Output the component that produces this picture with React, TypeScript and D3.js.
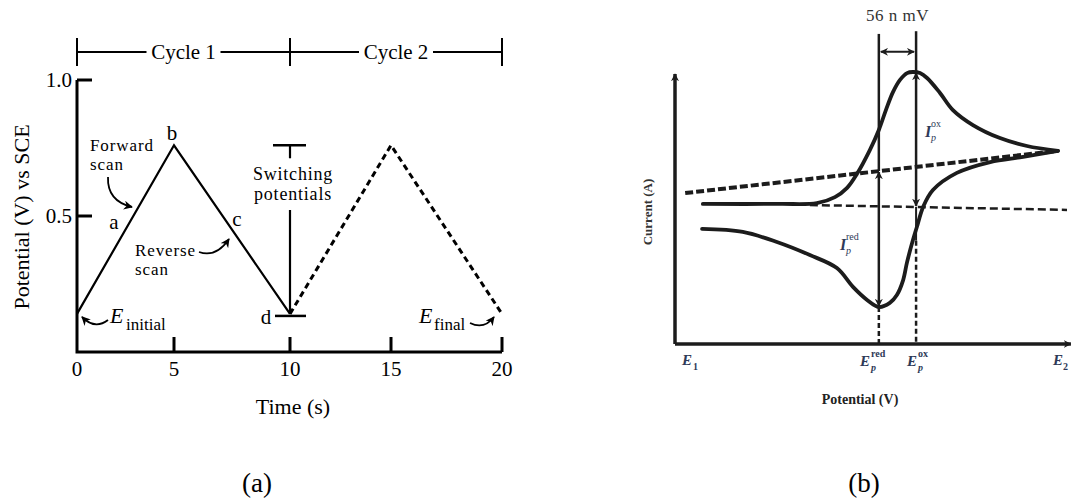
import React from 'react';
import * as d3 from 'd3';

// panel (a): triangular potential waveform
const timeTicks = [0, 5, 10, 15, 20];
const potentialTicks = [0.5, 1.0];
const potentialTickLabels = ['0.5', '1.0'];
const cycle1Times = [0, 5, 10];
const cycle1Potentials = [0.14, 0.76, 0.14];
const cycle2Times = [10, 15, 20];
const cycle2Potentials = [0.14, 0.76, 0.14];
const cycleBounds = [0, 10, 20];
const cycleLabels = ['Cycle 1', 'Cycle 2'];
const switchHigh = 0.76;
const switchLow = 0.14;

// panel (b): voltammogram, normalised potential / current
const forwardE = [0.071, 0.268, 0.362, 0.408, 0.439, 0.464, 0.497, 0.52, 0.538, 0.556, 0.574, 0.592, 0.607, 0.625, 0.643, 0.676, 0.709, 0.76, 0.829, 0.898, 0.977];
const forwardI = [0.515, 0.515, 0.518, 0.54, 0.574, 0.625, 0.713, 0.787, 0.86, 0.926, 0.971, 0.996, 1.0, 0.996, 0.978, 0.923, 0.86, 0.805, 0.757, 0.728, 0.71];
const reverseE = [0.977, 0.888, 0.804, 0.719, 0.658, 0.633, 0.617, 0.607, 0.592, 0.582, 0.566, 0.548, 0.52, 0.49, 0.454, 0.413, 0.344, 0.26, 0.173, 0.069];
const reverseI = [0.71, 0.688, 0.669, 0.629, 0.566, 0.504, 0.43, 0.382, 0.301, 0.235, 0.18, 0.151, 0.136, 0.162, 0.21, 0.279, 0.327, 0.375, 0.412, 0.423];
const slopeBaseE = [0.026, 0.977];
const slopeBaseI = [0.555, 0.71];
const flatBaseE = [0.344, 1.0];
const flatBaseI = [0.511, 0.493];
const peakRedE = 0.52;
const peakOxE = 0.615;
const peakRedI = 0.136;
const peakOxI = 1.0;
const redBaseI = 0.636;
const oxBaseI = 0.504;
const markerTopI = 1.14;
const sepArrowI = 1.074;

const serif = "'Liberation Serif', 'Times New Roman', serif";
const ink = '#000';
const inkB = '#1c1c1c';
const labelB = '#2e3a58';

export default function App() {
  const W = 1071;
  const H = 499;

  // (a) scales - the original tick spacing is slightly irregular
  const xa = d3.scaleLinear().domain(timeTicks).range([77, 174, 290, 391, 502]);
  const ya = d3.scaleLinear().domain([0, 1]).range([352, 80]);
  const lineA = d3.line<number>()
    .x((_, i) => xa(cycle1Times[i]))
    .y(d => ya(d));
  const lineA2 = d3.line<number>()
    .x((_, i) => xa(cycle2Times[i]))
    .y(d => ya(d));

  // (b) scales
  const xb = d3.scaleLinear().domain([0, 1]).range([675, 1067]);
  const yb = d3.scaleLinear().domain([0, 1]).range([344, 72]);
  const curveB = d3.line<[number, number]>()
    .x(d => xb(d[0]))
    .y(d => yb(d[1]))
    .curve(d3.curveCatmullRom.alpha(0.5));
  const fwd = forwardE.map((e, i) => [e, forwardI[i]] as [number, number]);
  const rev = reverseE.map((e, i) => [e, reverseI[i]] as [number, number]);

  const cycleY = 52;

  return (
    <svg width={W} height={H} viewBox={`0 0 ${W} ${H}`}
      style={{ position: 'absolute', left: 0, top: 0, background: '#fff' }}
      fontFamily={serif}>
      <defs>
        <marker id="headA" viewBox="0 0 10 10" refX="9" refY="5" markerWidth="9" markerHeight="9"
          markerUnits="userSpaceOnUse" orient="auto">
          <path d="M0,0 L10,5 L0,10 L3,5 Z" fill={ink} />
        </marker>
        <marker id="headB" viewBox="0 0 10 10" refX="9" refY="5" markerWidth="8" markerHeight="8"
          markerUnits="userSpaceOnUse" orient="auto-start-reverse">
          <path d="M0,0 L10,5 L0,10 L3,5 Z" fill={inkB} />
        </marker>
      </defs>

      {/* ---------------- panel (a) ---------------- */}
      <g>
        {/* cycle brackets */}
        <line x1={xa(0)} x2={xa(20)} y1={cycleY} y2={cycleY} stroke={ink} strokeWidth={2} />
        {cycleBounds.map(t => (
          <line key={t} x1={xa(t)} x2={xa(t)} y1={cycleY - 14} y2={cycleY + 14} stroke={ink} strokeWidth={2} />
        ))}
        {cycleLabels.map((lab, i) => {
          const cx = (xa(cycleBounds[i]) + xa(cycleBounds[i + 1])) / 2;
          return (
            <g key={lab}>
              <rect x={cx - 37} y={cycleY - 12} width={74} height={24} fill="#fff" />
              <text x={cx} y={cycleY + 7} textAnchor="middle" fontSize={21}>{lab}</text>
            </g>
          );
        })}

        {/* axes */}
        <path d={`M${xa(0)},${ya(1)} L${xa(0)},${ya(0)} L${xa(20)},${ya(0)}`} fill="none" stroke={ink} strokeWidth={3} />
        {potentialTicks.map((v, i) => (
          <g key={v}>
            <line x1={xa(0)} x2={xa(0) + 15} y1={ya(v)} y2={ya(v)} stroke={ink} strokeWidth={3} />
            <text x={xa(0) - 5} y={ya(v) + 7} textAnchor="end" fontSize={21}>{potentialTickLabels[i]}</text>
          </g>
        ))}
        {timeTicks.map(t => (
          <g key={t}>
            {t > 0 && <line x1={xa(t)} x2={xa(t)} y1={ya(0)} y2={ya(0) - 15} stroke={ink} strokeWidth={3} />}
            <text x={xa(t)} y={ya(0) + 24} textAnchor="middle" fontSize={21}>{t}</text>
          </g>
        ))}
        <text x={293} y={414} textAnchor="middle" fontSize={22}>Time (s)</text>
        <text transform="translate(29,217) rotate(-90)" textAnchor="middle" fontSize={22}>Potential (V) vs SCE</text>

        {/* waveform */}
        <path d={lineA(cycle1Potentials) || ''} fill="none" stroke={ink} strokeWidth={2.2} />
        <path d={lineA2(cycle2Potentials) || ''} fill="none" stroke={ink} strokeWidth={3} strokeDasharray="6 4" />

        {/* switching potentials */}
        <line x1={xa(10) - 17} x2={xa(10) + 16} y1={ya(switchHigh)} y2={ya(switchHigh)} stroke={ink} strokeWidth={2.5} />
        <line x1={xa(10)} x2={xa(10)} y1={ya(switchHigh)} y2={ya(switchHigh) + 13} stroke={ink} strokeWidth={2.2} />
        <line x1={xa(10)} x2={xa(10)} y1={210} y2={ya(switchLow)} stroke={ink} strokeWidth={2.2} />
        <line x1={xa(10) - 15} x2={xa(10) + 16} y1={ya(switchLow) + 2} y2={ya(switchLow) + 2} stroke={ink} strokeWidth={2.5} />
        <text x={293} y={180} textAnchor="middle" fontSize={18} letterSpacing={0.8}>Switching</text>
        <text x={293} y={200} textAnchor="middle" fontSize={18} letterSpacing={0.8}>potentials</text>

        {/* point labels */}
        <text x={xa(5) - 2} y={140} textAnchor="middle" fontSize={21}>b</text>
        <text x={114} y={229} textAnchor="middle" fontSize={21}>a</text>
        <text x={237} y={226} textAnchor="middle" fontSize={21}>c</text>
        <text x={266} y={324} textAnchor="middle" fontSize={21}>d</text>

        <text x={90} y={151} fontSize={17} letterSpacing={0.9}>Forward</text>
        <text x={90} y={170} fontSize={17} letterSpacing={0.9}>scan</text>
        <path d="M108,177 Q107,201 132,207" fill="none" stroke={ink} strokeWidth={1.8} markerEnd="url(#headA)" />

        <text x={135} y={256} fontSize={17} letterSpacing={0.9}>Reverse</text>
        <text x={135} y={275} fontSize={17} letterSpacing={0.9}>scan</text>
        <path d="M199,252 Q216,258 229,239" fill="none" stroke={ink} strokeWidth={1.8} markerEnd="url(#headA)" />

        <path d="M108,320 Q95,330 82,317" fill="none" stroke={ink} strokeWidth={1.8} markerEnd="url(#headA)" />
        <text x={110} y={323} fontSize={22} fontStyle="italic">E</text>
        <text x={126} y={330} fontSize={17}>initial</text>

        <text x={419} y={323} fontSize={22} fontStyle="italic">E</text>
        <text x={434} y={330} fontSize={17}>final</text>
        <path d="M470,323 Q484,330 494,317" fill="none" stroke={ink} strokeWidth={1.8} markerEnd="url(#headA)" />

        <text x={257} y={492} textAnchor="middle" fontSize={27}>(a)</text>
      </g>

      {/* ---------------- panel (b) ---------------- */}
      <g>
        {/* axes */}
        <line x1={xb(0)} x2={xb(0)} y1={yb(0)} y2={yb(1) + 2} stroke={inkB} strokeWidth={3.5} markerEnd="url(#headB)" />
        <line x1={xb(0)} x2={xb(1.01)} y1={yb(0)} y2={yb(0)} stroke={inkB} strokeWidth={3.5} markerEnd="url(#headB)" />

        {/* baselines */}
        <path d={curveB(slopeBaseE.map((e, i) => [e, slopeBaseI[i]] as [number, number])) || ''}
          fill="none" stroke={inkB} strokeWidth={4} strokeDasharray="8 3" />
        <path d={curveB(flatBaseE.map((e, i) => [e, flatBaseI[i]] as [number, number])) || ''}
          fill="none" stroke={inkB} strokeWidth={2.5} strokeDasharray="8 4" />

        {/* CV curve */}
        <path d={curveB(fwd) || ''} fill="none" stroke={inkB} strokeWidth={3.8} strokeLinecap="round" />
        <path d={curveB(rev) || ''} fill="none" stroke={inkB} strokeWidth={3.8} strokeLinecap="round" />

        {/* peak markers */}
        <line x1={xb(peakRedE)} x2={xb(peakRedE)} y1={yb(markerTopI)} y2={yb(redBaseI)} stroke={inkB} strokeWidth={2.5} />
        <line x1={xb(peakRedE)} x2={xb(peakRedE)} y1={yb(redBaseI) + 1} y2={yb(peakRedI) - 1} stroke={inkB} strokeWidth={2.5}
          markerStart="url(#headB)" markerEnd="url(#headB)" />
        <line x1={xb(peakRedE)} x2={xb(peakRedE)} y1={yb(peakRedI)} y2={yb(0)} stroke={inkB} strokeWidth={2.5} strokeDasharray="5 3" />

        <line x1={xb(peakOxE)} x2={xb(peakOxE)} y1={yb(markerTopI + 0.01)} y2={yb(peakOxI)} stroke={inkB} strokeWidth={2.5} />
        <line x1={xb(peakOxE)} x2={xb(peakOxE)} y1={yb(peakOxI) + 1} y2={yb(oxBaseI) - 1} stroke={inkB} strokeWidth={2.5}
          markerStart="url(#headB)" markerEnd="url(#headB)" />
        <line x1={xb(peakOxE)} x2={xb(peakOxE)} y1={yb(oxBaseI)} y2={yb(0.38)} stroke={inkB} strokeWidth={2} />
        <line x1={xb(peakOxE)} x2={xb(peakOxE)} y1={yb(0.38)} y2={yb(0)} stroke={inkB} strokeWidth={2.5} strokeDasharray="5 3" />

        <line x1={xb(peakRedE) + 2} x2={xb(peakOxE) - 2} y1={yb(sepArrowI)} y2={yb(sepArrowI)} stroke={inkB} strokeWidth={2}
          markerStart="url(#headB)" markerEnd="url(#headB)" />
        <text x={(xb(peakRedE) + xb(peakOxE)) / 2} y={21} textAnchor="middle" fontSize={17} letterSpacing={0.5} fill="#333">56 n   mV</text>

        {/* peak current labels */}
        <text x={925} y={137} fontSize={16} fontStyle="italic" fontWeight="bold" fill={labelB}>I</text>
        <text x={931} y={127} fontSize={10} fill={labelB}>ox</text>
        <text x={931} y={141} fontSize={10} fontStyle="italic" fill={labelB}>p</text>

        <text x={840} y={250} fontSize={16} fontStyle="italic" fontWeight="bold" fill={labelB}>I</text>
        <text x={846} y={240} fontSize={10} fill={labelB}>red</text>
        <text x={846} y={254} fontSize={10} fontStyle="italic" fill={labelB}>p</text>

        {/* potential tick labels */}
        <text x={682} y={365} fontSize={15} fontStyle="italic" fontWeight="bold" fill={labelB}>E</text>
        <text x={693} y={370} fontSize={10} fontWeight="bold" fill={labelB}>1</text>

        <text x={860} y={366} fontSize={15} fontStyle="italic" fontWeight="bold" fill={labelB}>E</text>
        <text x={871} y={357} fontSize={10} fontWeight="bold" fill={labelB}>red</text>
        <text x={871} y={371} fontSize={10} fontStyle="italic" fontWeight="bold" fill={labelB}>p</text>

        <text x={907} y={366} fontSize={15} fontStyle="italic" fontWeight="bold" fill={labelB}>E</text>
        <text x={918} y={357} fontSize={10} fontWeight="bold" fill={labelB}>ox</text>
        <text x={918} y={371} fontSize={10} fontStyle="italic" fontWeight="bold" fill={labelB}>p</text>

        <text x={1053} y={365} fontSize={15} fontStyle="italic" fontWeight="bold" fill={labelB}>E</text>
        <text x={1063} y={370} fontSize={10} fontWeight="bold" fill={labelB}>2</text>

        <text x={860} y={404} textAnchor="middle" fontSize={14} fontWeight="bold" fill="#222">Potential (V)</text>
        <text transform="translate(652,212) rotate(-90)" textAnchor="middle" fontSize={13} fontWeight="bold" fill="#333">Current (A)</text>

        <text x={864} y={492} textAnchor="middle" fontSize={27}>(b)</text>
      </g>
    </svg>
  );
}
